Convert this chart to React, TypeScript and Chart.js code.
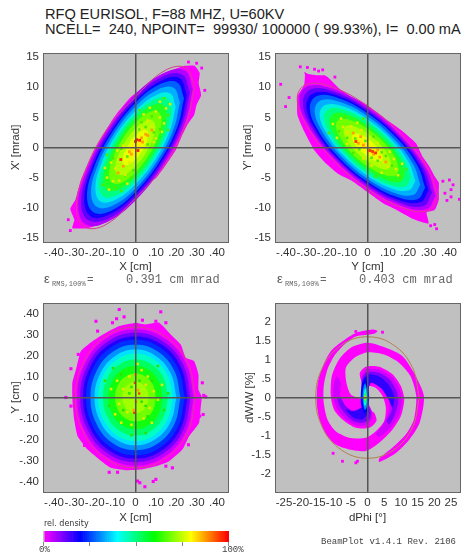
import React, { useEffect, useRef } from "react";
import { Chart, registerables } from "chart.js";

Chart.register(...registerables);

type Pt = number[];

// ---------- tick values ----------
const cmTicks = [-0.4, -0.3, -0.2, -0.1, 0, 0.1, 0.2, 0.3, 0.4];
const mradTicks = [-15, -10, -5, 0, 5, 10, 15];
const phiTicks = [-25, -20, -15, -10, -5, 0, 5, 10, 15, 20, 25];
const dwTicks = [-2, -1.5, -1, -0.5, 0, 0.5, 1, 1.5, 2];
const densityLevels = [0,1,2,3,4,5,6,7,8,9,10,11,12,13,14,15,16,17,18,19,20,21,22,23,24,25,26,27,28,29,30,31,32,33,34,35,36,37,38,39,40,41,42,43,44,45,46,47,48,49,50,51,52,53,54,55,56,57,58,59,60,61,62,63,64,65,66,67,68,69,70,71,72,73,74,75,76,77,78,79,80,81,82,83,84,85,86,87,88,89,90,91,92,93,94,95,96,97,98,99,100];

// ---------- X-X' contours, outer to inner ----------
const xxEdge: Pt[] = [[.239,13.6],[.29,13.6],[.315,12.4],[.31,10.7],[.322,8.7],[.3,7.1],[.288,5.4],[.255,3.8],[.23,2.1],[.198,-.4],[.149,-2.9],[.1,-5.1],[.034,-6.7],[.002,-8.4],[-.056,-9.2],[-.113,-10.6],[-.178,-12.8],[-.235,-13.4],[-.31,-13.4],[-.3,-12],[-.32,-10.2],[-.295,-8.7],[-.268,-5.4],[-.227,-2.2],[-.178,1],[-.121,4.2],[-.088,5.8],[-.023,8.4],[.034,9.9],[.132,11.8],[.198,13.1]];
const xxA: Pt[] = [[.281,9.7],[.243,12.8],[.141,12.4],[0,8.8],[-.141,2.7],[-.243,-4.1],[-.281,-9.7],[-.243,-12.8],[-.141,-12.4],[0,-8.8],[.141,-2.7],[.243,4.1]];
const xxB: Pt[] = [[.267,9.2],[.23,12.1],[.133,11.8],[0,8.3],[-.133,2.6],[-.23,-3.9],[-.267,-9.2],[-.23,-12.1],[-.133,-11.8],[0,-8.3],[.133,-2.6],[.23,3.9]];
const xxC: Pt[] = [[.252,8.7],[.218,11.5],[.126,11.1],[0,7.8],[-.126,2.4],[-.218,-3.7],[-.252,-8.7],[-.218,-11.5],[-.126,-11.1],[0,-7.8],[.126,-2.4],[.218,3.7]];
const xxD: Pt[] = [[.238,8.2],[.205,10.8],[.119,10.5],[0,7.4],[-.119,2.3],[-.205,-3.4],[-.238,-8.2],[-.205,-10.8],[-.119,-10.5],[0,-7.4],[.119,-2.3],[.205,3.4]];
const xxE: Pt[] = [[.218,7.5],[.188,9.9],[.109,9.6],[0,6.8],[-.109,2.1],[-.188,-3.2],[-.218,-7.5],[-.188,-9.9],[-.109,-9.6],[0,-6.8],[.109,-2.1],[.188,3.2]];
const xxF: Pt[] = [[.197,6.8],[.17,9],[.099,8.7],[0,6.1],[-.099,1.9],[-.17,-2.9],[-.197,-6.8],[-.17,-9],[-.099,-8.7],[0,-6.1],[.099,-1.9],[.17,2.9]];
const xxG: Pt[] = [[.18,6.2],[.155,8.2],[.09,7.9],[0,5.6],[-.09,1.7],[-.155,-2.6],[-.18,-6.2],[-.155,-8.2],[-.09,-7.9],[0,-5.6],[.09,-1.7],[.155,2.6]];
const xxH: Pt[] = [[.157,5.4],[.135,7.1],[.078,6.9],[0,4.9],[-.078,1.5],[-.135,-2.3],[-.157,-5.4],[-.135,-7.1],[-.078,-6.9],[0,-4.9],[.078,-1.5],[.135,2.3]];
const xxI: Pt[] = [[.13,4.5],[.113,5.9],[.065,5.8],[0,4.1],[-.065,1.3],[-.113,-1.9],[-.13,-4.5],[-.113,-5.9],[-.065,-5.8],[0,-4.1],[.065,-1.3],[.113,1.9]];
const xxJ: Pt[] = [[.099,3.4],[.085,4.5],[.049,4.4],[0,3.1],[-.049,1],[-.085,-1.4],[-.099,-3.4],[-.085,-4.5],[-.049,-4.4],[0,-3.1],[.049,-1],[.085,1.4]];
const xxK: Pt[] = [[.064,2.2],[.055,2.9],[.032,2.8],[0,2],[-.032,.6],[-.055,-.9],[-.064,-2.2],[-.055,-2.9],[-.032,-2.8],[0,-2],[.032,-.6],[.055,.9]];
const xxL: Pt[] = [[.035,1.2],[.03,1.6],[.017,1.5],[0,1.1],[-.017,.3],[-.03,-.5],[-.035,-1.2],[-.03,-1.6],[-.017,-1.5],[0,-1.1],[.017,-.3],[.03,.5]];
const xxEllipse: Pt[] = [[.29,10],[.25,13.2],[.145,12.8],[0,8.4],[-.145,2.8],[-.25,-4.2],[-.29,-10],[-.25,-13.2],[-.145,-12.8],[0,-8.4],[.145,-2.8],[.25,4.2]];
const xxRed: Pt[] = [[.005,1.3],[.02,1.2],[0,1],[.012,-.5],[-.072,-2]];
const xxOrange: Pt[] = [[.05,2.2],[.03,1.6],[-.02,-1.1],[-.03,-.7],[.06,2],[-.06,-3.1],[.035,.9],[-.085,-4.2],[.08,2.9]];
const xxYellow: Pt[] = [[.08,3.5],[.12,5],[.1,1.5],[.14,4],[-.1,-3.5],[-.05,-4.5],[-.12,-2.5],[.06,4.5],[.04,5.5],[-.03,-2.5],[-.09,-.5],[.1,6],[.15,6.5],[-.14,-5],[-.08,-5.5],[.17,7.2],[.13,2.6],[-.11,-5.6],[-.15,-3.4],[-.04,-6],[.07,6.6],[-.13,-7],[.12,7.6],[.03,3],[-.06,.3],[.09,.9]];
const xxGreen: Pt[] = [[.02,3],[.06,.5],[-.04,-1.5],[-.07,-.2],[.09,2.5],[-.01,-3.8],[.03,4.2],[-.11,-1.8],[.12,3],[.05,3.4],[-.02,-5],[.08,5.2],[-.1,-6.6],[.16,5.4],[-.16,-6.2],[.14,8.2],[-.07,-7.2],[-.14,-1.2],[.16,2.9],[.02,6.2]];
const xxDots: Pt[] = [[.3,14],[.325,13.2],[-.33,-12],[.34,9.5],[.26,14.2],[-.32,-13.8]];

// ---------- Y-Y' contours ----------
const yyEdge: Pt[] = [[-.31,12.6],[-.29,12.2],[-.25,12],[-.21,12],[-.189,11.5],[-.139,9.8],[-.082,8.5],[-.008,7.2],[.041,6],[.107,4.3],[.172,2.7],[.238,.7],[.27,-1.5],[.303,-3.1],[.33,-4.8],[.35,-5.8],[.35,-7.3],[.35,-8.7],[.33,-10.4],[.29,-10.8],[.3,-12.6],[.25,-12.2],[.213,-11.7],[.139,-10.3],[.074,-9.2],[0,-7.4],[-.074,-5.6],[-.139,-4.5],[-.205,-2.6],[-.262,-.4],[-.311,2.7],[-.344,5.4],[-.344,8.5],[-.311,10.4],[-.307,12]];
const yyA: Pt[] = [[.335,-8],[.29,-3.6],[.168,1.8],[0,6.7],[-.168,9.7],[-.29,10.2],[-.335,8],[-.29,3.6],[-.168,-1.8],[0,-6.7],[.168,-9.7],[.29,-10.2]];
const yyB: Pt[] = [[.317,-7.5],[.275,-3.4],[.159,1.7],[0,6.3],[-.159,9.2],[-.275,9.7],[-.317,7.5],[-.275,3.4],[-.159,-1.7],[0,-6.3],[.159,-9.2],[.275,-9.7]];
const yyC: Pt[] = [[.3,-7.1],[.26,-3.2],[.15,1.7],[0,6],[-.15,8.7],[-.26,9.1],[-.3,7.1],[-.26,3.2],[-.15,-1.7],[0,-6],[.15,-8.7],[.26,-9.1]];
const yyD: Pt[] = [[.283,-6.7],[.245,-3],[.142,1.6],[0,5.7],[-.142,8.2],[-.245,8.6],[-.283,6.7],[-.245,3],[-.142,-1.6],[0,-5.7],[.142,-8.2],[.245,-8.6]];
const yyE: Pt[] = [[.259,-6.2],[.224,-2.8],[.13,1.4],[0,5.2],[-.13,7.5],[-.224,7.9],[-.259,6.2],[-.224,2.8],[-.13,-1.4],[0,-5.2],[.13,-7.5],[.224,-7.9]];
const yyF: Pt[] = [[.235,-5.6],[.203,-2.5],[.118,1.3],[0,4.7],[-.118,6.8],[-.203,7.1],[-.235,5.6],[-.203,2.5],[-.118,-1.3],[0,-4.7],[.118,-6.8],[.203,-7.1]];
const yyG: Pt[] = [[.214,-5.1],[.185,-2.3],[.107,1.2],[0,4.3],[-.107,6.2],[-.185,6.5],[-.214,5.1],[-.185,2.3],[-.107,-1.2],[0,-4.3],[.107,-6.2],[.185,-6.5]];
const yyH: Pt[] = [[.186,-4.4],[.161,-2],[.093,1],[0,3.7],[-.093,5.4],[-.161,5.7],[-.186,4.4],[-.161,2],[-.093,-1],[0,-3.7],[.093,-5.4],[.161,-5.7]];
const yyI: Pt[] = [[.155,-3.7],[.135,-1.7],[.078,.9],[0,3.1],[-.078,4.5],[-.135,4.7],[-.155,3.7],[-.135,1.7],[-.078,-.9],[0,-3.1],[.078,-4.5],[.135,-4.7]];
const yyJ: Pt[] = [[.117,-2.8],[.102,-1.3],[.059,.6],[0,2.3],[-.059,3.4],[-.102,3.6],[-.117,2.8],[-.102,1.3],[-.059,-.6],[0,-2.3],[.059,-3.4],[.102,-3.6]];
const yyK: Pt[] = [[.076,-1.8],[.066,-.8],[.038,.4],[0,1.5],[-.038,2.2],[-.066,2.3],[-.076,1.8],[-.066,.8],[-.038,-.4],[0,-1.5],[.038,-2.2],[.066,-2.3]];
const yyL: Pt[] = [[.041,-1],[.036,-.4],[.021,.2],[0,.8],[-.021,1.2],[-.036,1.3],[-.041,1],[-.036,.4],[-.021,-.2],[0,-.8],[.021,-1.2],[.036,-1.3]];
const yyEllipse: Pt[] = [[.345,-8.2],[.299,-3.7],[.173,1.9],[0,6.9],[-.173,10.05],[-.299,10.5],[-.345,8.2],[-.299,3.7],[-.173,-1.9],[0,-6.9],[.173,-10.05],[.299,-10.5]];
const yyRed: Pt[] = [[-.057,1],[.025,-.66],[.04,-.9],[.012,-.5]];
const yyOrange: Pt[] = [[-.033,1.8],[-.045,.7],[.03,-1.1],[.06,-1.6],[-.02,.4],[-.07,2.4],[.05,-.4],[.09,-2.4]];
const yyYellow: Pt[] = [[-.1,2.5],[-.08,3.5],[-.12,3.4],[.08,-2.5],[.1,-3.2],[.13,-1.9],[-.03,2.9],[.02,-3],[-.15,1.6],[.05,.8],[-.1,.6],[.14,-3.6],[-.05,4.1],[-.17,3.9],[.17,-2.7],[.07,-4.2],[.11,-.7],[-.13,4.8],[.15,-4.6],[-.02,-1.8]];
const yyGreen: Pt[] = [[-.06,1.5],[.02,-1.7],[-.1,1.6],[.07,-.8],[-.01,1.1],[.09,-1.4],[-.04,-.3],[.05,-2.2],[-.14,2.7],[.03,1.8],[-.07,-.9],[.12,-3],[-.11,5],[.16,-5],[-.19,2.4],[.04,-4.8],[-.02,4.8],[.19,-3.6]];
const yyDots: Pt[] = [[-.402,6.8],[-.385,8.3],[-.426,10.5],[.339,-13.5],[.451,-8.6],[.42,-6.2],[.41,-8.2],[.402,-5.4],[.41,-7],[.39,-8.8],[-.33,13.4],[-.295,13.3],[-.26,13],[-.22,12.9],[-.24,12.7],[-.16,11.7],[.33,-12.8],[.37,-5.6],[.38,-7.6],[.31,-13]];

// ---------- X-Y contours ----------
const xyEdge: Pt[] = [[0,.356],[.051,.348],[.116,.356],[.173,.3],[.222,.252],[.247,.189],[.288,.173],[.309,.11],[.309,.038],[.325,.003],[.32,-.049],[.312,-.121],[.263,-.184],[.23,-.248],[.165,-.303],[.1,-.327],[.026,-.343],[-.047,-.346],[-.121,-.335],[-.178,-.295],[-.235,-.248],[-.284,-.184],[-.301,-.105],[-.308,-.033],[-.31,0],[-.31,.07],[-.292,.133],[-.268,.221],[-.211,.268],[-.145,.308],[-.08,.34]];
const xyA: Pt[] = [[.286,0],[.247,.163],[.144,.281],[0,.325],[-.144,.281],[-.247,.163],[-.286,0],[-.247,-.163],[-.144,-.281],[0,-.325],[.144,-.281],[.247,-.163]];
const xyB: Pt[] = [[.271,0],[.235,.155],[.136,.267],[0,.308],[-.136,.267],[-.235,.155],[-.271,0],[-.235,-.155],[-.136,-.267],[0,-.308],[.136,-.267],[.235,-.155]];
const xyC: Pt[] = [[.257,0],[.222,.146],[.129,.252],[0,.291],[-.129,.252],[-.222,.146],[-.257,0],[-.222,-.146],[-.129,-.252],[0,-.291],[.129,-.252],[.222,-.146]];
const xyD: Pt[] = [[.242,0],[.209,.138],[.121,.238],[0,.275],[-.121,.238],[-.209,.138],[-.242,0],[-.209,-.138],[-.121,-.238],[0,-.275],[.121,-.238],[.209,-.138]];
const xyE: Pt[] = [[.221,0],[.191,.126],[.111,.218],[0,.251],[-.111,.218],[-.191,.126],[-.221,0],[-.191,-.126],[-.111,-.218],[0,-.251],[.111,-.218],[.191,-.126]];
const xyF: Pt[] = [[.201,0],[.173,.114],[.101,.197],[0,.228],[-.101,.197],[-.173,.114],[-.201,0],[-.173,-.114],[-.101,-.197],[0,-.228],[.101,-.197],[.173,-.114]];
const xyG: Pt[] = [[.183,0],[.158,.104],[.092,.18],[0,.208],[-.092,.18],[-.158,.104],[-.183,0],[-.158,-.104],[-.092,-.18],[0,-.208],[.092,-.18],[.158,-.104]];
const xyH: Pt[] = [[.159,0],[.138,.091],[.08,.157],[0,.181],[-.08,.157],[-.138,.091],[-.159,0],[-.138,-.091],[-.08,-.157],[0,-.181],[.08,-.157],[.138,-.091]];
const xyI: Pt[] = [[.133,0],[.115,.076],[.067,.131],[0,.151],[-.067,.131],[-.115,.076],[-.133,0],[-.115,-.076],[-.067,-.131],[0,-.151],[.067,-.131],[.115,-.076]];
const xyJ: Pt[] = [[.1,0],[.087,.057],[.05,.099],[0,.114],[-.05,.099],[-.087,.057],[-.1,0],[-.087,-.057],[-.05,-.099],[0,-.114],[.05,-.099],[.087,-.057]];
const xyK: Pt[] = [[.065,0],[.056,.037],[.033,.064],[0,.074],[-.033,.064],[-.056,.037],[-.065,0],[-.056,-.037],[-.033,-.064],[0,-.074],[.033,-.064],[.056,-.037]];
const xyEllipse: Pt[] = [[.295,0],[.255,.168],[.148,.29],[0,.335],[-.148,.29],[-.255,.168],[-.295,0],[-.255,-.168],[-.148,-.29],[0,-.335],[.148,-.29],[.255,-.168]];
const xyRed: Pt[] = [[.018,.019],[-.006,-.073],[-.003,.07]];
const xyOrange: Pt[] = [[0,.11],[-.008,-.06],[.012,.035],[.002,-.02]];
const xyYellow: Pt[] = [[-.06,.04],[.05,.06],[-.08,-.03],[.07,-.05],[-.03,.1],[.04,-.1],[-.09,.08],[.09,.03],[-.04,-.07],[.03,.13],[-.02,-.13],[.06,.1],[-.1,-.08],[.11,-.01],[.01,.16],[-.12,.04],[.13,.06],[-.07,-.12],[.08,-.12]];
const xyGreen: Pt[] = [[-.03,.02],[.03,-.02],[.02,.08],[-.06,-.06],[.05,-.04],[-.02,.05],[.08,.08],[-.07,.11],[.06,-.09],[-.13,-.04],[.14,-.06],[-.11,.14],[.11,.15],[-.02,-.18],[.05,-.17],[-.15,.08],[.16,.02]];
const xyDots: Pt[] = [[.01,-.398],[.021,-.406],[.046,-.425],[.1,-.39],[.087,-.4],[-.129,-.356],[-.088,-.356],[.149,-.327],[.181,-.335],[-.08,.419],[-.056,.384],[-.093,.375],[.034,.368],[.1,.363],[.124,.408],[-.194,.363],[-.186,.316],[-.317,.137],[-.281,.205],[.328,.07],[.332,-.081],[.315,-.089],[-.317,-.041],[-.113,.356],[.149,.356],[-.342,0],[.345,.003],[.335,.01],[.26,-.225],[-.25,-.228]];

// ---------- dPhi-dW/W contours ----------
const armA: Pt[] = [[-.7,.3],[-2,.47],[-2.3,.65],[-.5,.81],[3.5,.81],[7.5,.61],[10,.3],[11,-.05],[10,-.49],[7.5,-.84],[3.5,-1.19],[-.5,-1.41],[-5.5,-1.37],[-9.5,-1.24],[-12.5,-.97],[-14.4,-.58],[-15.2,-.14],[-14.9,.39],[-13.4,.82],[-11,1.22],[-7.5,1.48],[-3.5,1.7],[1.5,1.79],[3,1.75],[2,1.68],[-3.5,1.61],[-7,1.39],[-10,1.09],[-12,.74],[-13.1,.3],[-13.1,-.14],[-12,-.58],[-9.5,-.89],[-5.5,-1.06],[-.5,-1.06],[2.5,-.89],[5,-.62],[5.5,-.27],[4.5,.04],[2.5,.25],[0,.3],[-.3,0]];
const armB: Pt[] = [[.3,-.32],[2,-.4],[2.7,-.62],[.5,-.8],[-3.5,-.8],[-7.5,-.58],[-10,-.32],[-11,.04],[-10.7,.56],[-8.5,1],[-5,1.31],[0,1.44],[5.5,1.31],[10.5,1.09],[13.9,.65],[16.9,.04],[15.6,-.67],[12.5,-1.11],[8.5,-1.46],[3.5,-1.7],[3.5,-1.61],[7.5,-1.32],[11.5,-.97],[13.9,-.58],[14.6,.04],[12.9,.56],[9.5,.91],[5,1.13],[0,1.19],[-4,1.04],[-6.5,.78],[-6.3,.39],[-5,.08],[-2,-.04],[-.5,-.1]];
const armALight: Pt[] = [[-1.7,.21],[-1.8,.56],[-.3,.74],[3.5,.74],[7.3,.54],[9.5,.25],[10.3,-.05],[9.5,-.45],[7.2,-.77],[3.5,-1.04],[2.5,-.95],[4.7,-.71],[6.3,-.4],[6.5,-.1],[5,.21],[3,.39],[.5,.34],[-.3,.08]];
const armAMid: Pt[] = [[-1.5,.17],[-1.5,.52],[0,.67],[3.5,.65],[6.7,.47],[8.7,.17],[9.2,-.14],[8,-.49],[6.5,-.71],[5.7,-.62],[7.2,-.36],[7.5,-.05],[6,.25],[3.5,.46],[1,.43],[-.1,.12]];
const armABlue: Pt[] = [[-1.2,.21],[-1.2,.47],[.5,.61],[3.5,.56],[6.3,.34],[8,.04],[7.5,-.27],[6.3,-.05],[4,.25],[1,.39],[-.1,.12]];
const armBLight: Pt[] = [[.1,-.14],[1.3,-.36],[1.3,-.58],[-1,-.74],[-4,-.71],[-7,-.54],[-9.3,-.27],[-10.3,.04],[-10,.39],[-9.3,.56],[-8,.39],[-8.2,.04],[-7,-.18],[-4.5,-.33],[-2,-.27],[-.7,-.12]];
const armBMid: Pt[] = [[0,-.18],[1,-.39],[.5,-.58],[-1.5,-.67],[-4.3,-.62],[-6.5,-.45],[-8.3,-.23],[-9,-.01],[-8,-.01],[-6.5,-.23],[-4,-.39],[-1.7,-.33]];
const armBBlue: Pt[] = [[-.3,-.18],[.4,-.36],[-1.5,-.58],[-4.2,-.53],[-6.4,-.32],[-4,-.36],[-1.5,-.25]];
const coreBlue: Pt[] = [[-.7,.55],[.2,.3],[.5,0],[.1,-.33],[-.9,-.42],[-1.9,-.2],[-2,.1],[-1.6,.4]];
const coreAzure: Pt[] = [[-.7,.38],[-.1,.2],[.1,0],[-.2,-.25],[-.8,-.33],[-1.4,-.1],[-1.4,.15],[-1.1,.3]];
const coreCyan: Pt[] = [[-.7,.27],[-.3,.12],[-.2,-.05],[-.5,-.2],[-.9,-.22],[-1.1,-.05],[-1.1,.1]];
const coreGreen: Pt[] = [[-.7,.14],[-.4,.05],[-.4,-.06],[-.7,-.14],[-1,-.05],[-1,.06]];
const coreLime: Pt[] = [[-.7,.08],[-.5,.02],[-.5,-.03],[-.7,-.08],[-.9,-.03],[-.9,.03]];
const dwEllipse: Pt[] = [[15.5,0],[13.4,.8],[7.75,1.385],[0,1.6],[-7.75,1.385],[-13.4,.8],[-15.5,0],[-13.4,-.8],[-7.75,-1.385],[0,-1.6],[7.75,-1.385],[13.4,-.8]];
const dwOrange: Pt[] = [[-.7,0]];
const dwDots: Pt[] = [[-3.5,-1.72],[-3,-1.68],[-10.3,-1.47],[-7.5,-1.68],[4.5,1.72],[-3.5,1.74]];

const xxColors = ["#ffee00","#e8ff00","#b0ff00","#70ff00","#20ff20","#00ff80","#00f0e0","#00b0ff","#0060ff","#1000ff","#6000ff","#b000ff","#ff00ff"];
const xyColors = ["#a0ff00","#70ff00","#10ff10","#00ff60","#00ffc0","#00e0ff","#0090ff","#0030ff","#2000ff","#7000ff","#c000ff","#ff00ff"];
const dwColors = ["#a0ff00","#00ff50","#00ffe0","#0090ff","#0000ff","#3000ff","#3000ff","#8000ff","#8000ff","#d000ff","#d000ff","#ff00ff","#ff00ff"];
const colorStops = [[0,255,0,255],[20,0,0,255],[40,0,255,255],[60,0,255,0],[80,255,255,0],[100,255,0,0]];

const FRAME = "#666666";
const INK = "#333333";
const PLOT_BG = "#c0c0c0";

function rampColor(level: number) {
  if (level === 0) return PLOT_BG;
  let i = 0;
  while (i < colorStops.length - 2 && level > colorStops[i + 1][0]) i++;
  const a = colorStops[i], b = colorStops[i + 1];
  const t = (level - a[0]) / (b[0] - a[0]);
  return `rgb(${a[1] + t * (b[1] - a[1])},${a[2] + t * (b[2] - a[2])},${a[3] + t * (b[3] - a[3])})`;
}

const toXY = (p: Pt[]) => p.map((q) => ({ x: q[0], y: q[1] }));

function contourSet(c: Pt[], color: string, tension: number) {
  return {
    data: toXY([...c, c[0]]), showLine: true, fill: "shape", backgroundColor: color,
    borderColor: color, borderWidth: 0, pointRadius: 0, tension,
  };
}
function dotSet(p: Pt[], color: string, radius: number) {
  return { data: toXY(p), pointStyle: "rect", pointRadius: radius, backgroundColor: color, borderWidth: 0 };
}
function ellipseSet(p: Pt[], color: string) {
  return { data: toXY([...p, p[0]]), showLine: true, fill: false, borderColor: color, borderWidth: 1, pointRadius: 0, tension: 0.4 };
}

const plotFrame = {
  id: "plotFrame",
  beforeDraw(chart: any) {
    const a = chart.chartArea, c = chart.ctx;
    c.save(); c.fillStyle = PLOT_BG; c.fillRect(a.left, a.top, a.width, a.height); c.restore();
  },
  afterDraw(chart: any) {
    const a = chart.chartArea, c = chart.ctx;
    c.save(); c.strokeStyle = FRAME; c.lineWidth = 1;
    c.strokeRect(a.left + 0.5, a.top + 0.5, a.width, a.height); c.restore();
  },
};

const font = { family: "'Liberation Sans', Arial, sans-serif", size: 11.5 };

function axis(ticks: number[], fmt: (v: number) => string, title: string, half: number, horizontal: boolean, titlePad: number) {
  return {
    type: "linear", min: -half, max: half,
    afterBuildTicks(s: any) { s.ticks = ticks.map((value) => ({ value })); },
    afterFit(s: any) {
      if (horizontal) s.height = 38; else s.width = 43;
      s.paddingLeft = 0; s.paddingRight = 0; s.paddingTop = 0; s.paddingBottom = 0;
    },
    ticks: { autoSkip: false, maxRotation: 0, minRotation: 0, padding: 4, color: INK, font, callback: (v: number) => fmt(v) },
    grid: {
      z: 1, drawTicks: false, lineWidth: 1.5,
      color: (c: any) => (c.tick && c.tick.value === 0 ? "#555555" : "rgba(0,0,0,0)"),
    },
    border: { display: false },
    title: {
      display: true, text: title, color: INK, font,
      padding: horizontal ? { top: 0, bottom: titlePad } : { top: titlePad, bottom: 0 },
    },
  };
}
const cmFmt = (v: number) => (v === 0 ? "0" : (v < 0 ? "-" : "") + Math.abs(v).toFixed(2).slice(1));
const plainFmt = (v: number) => (v === 0 ? "0" : (v < 0 ? "-" : "") + String(Math.abs(v)).replace(/^0\./, "."));

function panelConfig(datasets: any[], x: any, y: any) {
  return {
    type: "scatter", data: { datasets },
    plugins: [plotFrame],
    options: {
      responsive: false, animation: false, events: [],
      layout: { padding: { top: 13, right: 3, left: 0, bottom: 0 } },
      plugins: { legend: { display: false }, tooltip: { enabled: false } },
      scales: { x, y },
    },
  };
}

// A dataset with a lower index is painted later, so marks come first and the outermost fill last.
const xxSets = [
  dotSet(xxRed, "#ff2000", 2), dotSet(xxOrange, "#ffa000", 2), dotSet(xxYellow, "#e8e800", 1.8), dotSet(xxGreen, "#50e800", 1.8), dotSet(xxDots, "#ff00ff", 2),
  ellipseSet(xxEllipse, "#d0408e"),
  ...[xxL,xxK,xxJ,xxI,xxH,xxG,xxF,xxE,xxD,xxC,xxB,xxA].map((c, i) => contourSet(c, xxColors[i], 0.4)),
  contourSet(xxEdge, xxColors[12], 0.15),
];
const yySets = [
  dotSet(yyRed, "#ff3000", 2), dotSet(yyOrange, "#ffa000", 2), dotSet(yyYellow, "#e8e800", 1.8), dotSet(yyGreen, "#50e800", 1.8), dotSet(yyDots, "#ff00ff", 2),
  ellipseSet(yyEllipse, "#d0408e"),
  ...[yyL,yyK,yyJ,yyI,yyH,yyG,yyF,yyE,yyD,yyC,yyB,yyA].map((c, i) => contourSet(c, xxColors[i], 0.4)),
  contourSet(yyEdge, xxColors[12], 0.15),
];
const xySets = [
  dotSet(xyRed, "#ff3000", 1.6), dotSet(xyOrange, "#ffa000", 2), dotSet(xyYellow, "#e8e800", 1.8), dotSet(xyGreen, "#30e000", 1.8), dotSet(xyDots, "#ff00ff", 2.2),
  ellipseSet(xyEllipse, "#d0408e"),
  ...[xyK,xyJ,xyI,xyH,xyG,xyF,xyE,xyD,xyC,xyB,xyA].map((c, i) => contourSet(c, xyColors[i], 0.4)),
  contourSet(xyEdge, xyColors[11], 0.15),
];
const dwSets = [
  dotSet(dwOrange, "#ffc000", 1.5), dotSet(dwDots, "#ff00ff", 2),
  ellipseSet(dwEllipse, "#b08050"),
  ...[coreLime,coreGreen,coreCyan,coreAzure,coreBlue,armABlue,armBBlue,armAMid,armBMid,armALight,armBLight,armA,armB].map((c, i) => contourSet(c, dwColors[i], 0.25)),
];

const barConfig = {
  type: "bar",
  data: {
    labels: densityLevels.map(String),
    datasets: [{
      data: densityLevels.map(() => 1),
      backgroundColor: densityLevels.map(rampColor),
      borderWidth: 0, barPercentage: 1, categoryPercentage: 1,
    }],
  },
  options: {
    responsive: false, animation: false, events: [],
    layout: { padding: { left: 43, right: 238, top: 6, bottom: 0 } },
    plugins: { legend: { display: false }, tooltip: { enabled: false } },
    scales: {
      y: { display: false, min: 0, max: 1 },
      x: {
        afterFit(s: any) { s.height = 4; s.paddingLeft = 0; s.paddingRight = 0; },
        ticks: { display: false, autoSkip: false },
        border: { display: false },
        grid: {
          offset: false, drawOnChartArea: false, tickLength: 4,
          color: (c: any) => (c.index % 25 === 0 ? "#888888" : "rgba(0,0,0,0)"),
        },
      },
    },
  },
};

const canvases = [
  { left: 0, top: 40, width: 232, height: 240 },
  { left: 232, top: 40, width: 232, height: 240 },
  { left: 0, top: 290, width: 232, height: 240 },
  { left: 232, top: 290, width: 232, height: 240 },
  { left: 0, top: 525, width: 467, height: 21 },
];

const abs = (left: number, top: number, extra: any = {}): any => ({
  position: "absolute", left, top, whiteSpace: "pre", margin: 0, ...extra,
});
const SANS = "'Liberation Sans', Arial, sans-serif";
const MONO = "'Liberation Mono', 'Courier New', monospace";

function Emit({ left, value }: { left: number; value: string }) {
  return (
    <>
      <div style={abs(left, 271, { font: `13px/16px ${SANS}`, color: "#555" })}>ε</div>
      <div style={abs(left + 8, 279, { font: `7px/10px ${MONO}`, color: "#666" })}>RMS,100%</div>
      <div style={abs(left + 43, 272, { font: `11px/16px ${MONO}`, color: "#666" })}>=</div>
      <div style={abs(left + 82, 272, { font: `12px/16px ${MONO}`, color: "#666" })}>{value}</div>
    </>
  );
}

export default function App() {
  const refs = useRef<(HTMLCanvasElement | null)[]>([]);
  useEffect(() => {
    const configs: any[] = [
      panelConfig(xxSets, axis(cmTicks, cmFmt, "X [cm]", 0.454, true, 6), axis(mradTicks, plainFmt, "X' [mrad]", 15.7, false, 9)),
      panelConfig(yySets, axis(cmTicks, cmFmt, "Y [cm]", 0.454, true, 6), axis(mradTicks, plainFmt, "Y' [mrad]", 15.7, false, 9)),
      panelConfig(xySets, axis(cmTicks, cmFmt, "X [cm]", 0.454, true, 5), axis(cmTicks, cmFmt, "Y [cm]", 0.45, false, 9)),
      panelConfig(dwSets, axis(phiTicks, plainFmt, "dPhi [°]", 27.7, true, 5), axis(dwTicks, plainFmt, "dW/W [%]", 2.49, false, 11)),
      barConfig,
    ];
    const charts = configs.map((cfg, i) => new Chart(refs.current[i] as HTMLCanvasElement, cfg));
    return () => charts.forEach((c) => c.destroy());
  }, []);
  return (
    <div style={{ position: "absolute", left: 0, top: 0, width: 467, height: 556, background: "#fff", overflow: "hidden" }}>
      {canvases.map((c, i) => (
        <canvas key={i} ref={(el) => { refs.current[i] = el; }} width={c.width} height={c.height}
          style={{ position: "absolute", left: c.left, top: c.top, width: c.width, height: c.height, filter: "blur(0.4px)" }} />
      ))}
      <div style={abs(45, 6, { font: `14.6px/16px ${SANS}`, color: "#222" })}>RFQ EURISOL, F=88 MHZ, U=60KV</div>
      <div style={abs(45, 21, { font: `14.6px/16px ${SANS}`, color: "#222" })}>{"NCELL=  240, NPOINT=  99930/ 100000 ( 99.93%), I=  0.00 mA"}</div>
      <Emit left={44} value="0.391 cm mrad" />
      <Emit left={277} value="0.403 cm mrad" />
      <div style={abs(44, 519, { font: `8px/10px 'DejaVu Sans', sans-serif`, color: "#333" })}>rel. density</div>
      <div style={abs(39, 545, { font: `9px/11px ${MONO}`, color: "#444" })}>0%</div>
      <div style={abs(222, 545, { font: `9px/11px ${MONO}`, color: "#444" })}>100%</div>
      <div style={abs(321, 537, { font: `9px/11px ${MONO}`, color: "#444" })}>BeamPlot v1.4.1 Rev. 2106</div>
    </div>
  );
}
